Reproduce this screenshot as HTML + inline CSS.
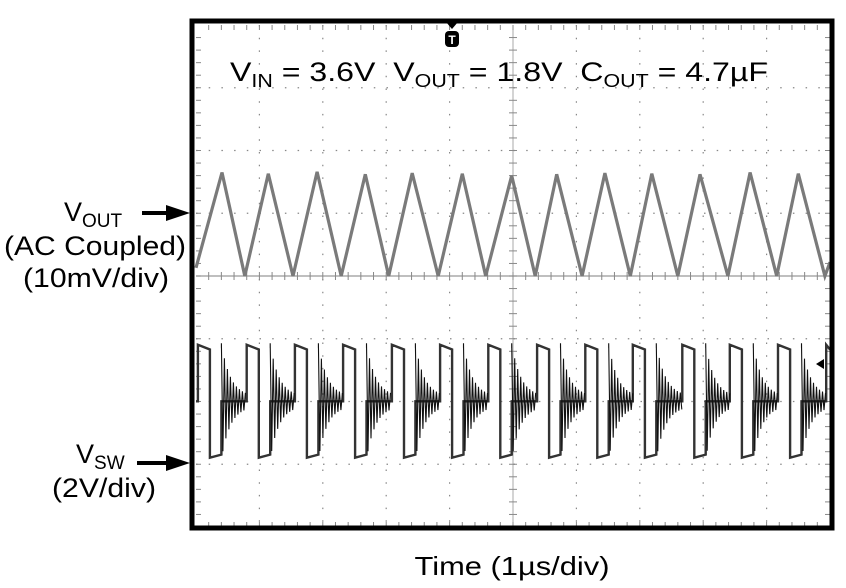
<!DOCTYPE html>
<html><head><meta charset="utf-8"><style>
html,body{margin:0;padding:0;background:#fff;}
svg{display:block;font-family:"Liberation Sans",sans-serif;}
</style></head><body>
<svg id="chart" width="846" height="588" viewBox="0 0 846 588">
<g id="grid"></g>
<g id="traces"></g>
<rect x="192" y="21" width="640" height="507" fill="none" stroke="#000" stroke-width="5"/>
<g>
<polygon points="446,22 458,22 452,29" fill="#000"/>
<rect x="445" y="31" width="14" height="16" rx="4" fill="#000"/>
<text x="452" y="44" font-size="12" font-weight="bold" fill="#fff" text-anchor="middle">T</text>
</g>
<polygon points="816,364 824,359 824,369" fill="#000"/>
<text x="230" y="81" font-size="27" fill="#000" textLength="538" lengthAdjust="spacingAndGlyphs">V<tspan font-size="18" dy="6">IN</tspan><tspan dy="-6"> = 3.6V&#160;&#160;V</tspan><tspan font-size="18" dy="6">OUT</tspan><tspan dy="-6"> = 1.8V&#160;&#160;C</tspan><tspan font-size="18" dy="6">OUT</tspan><tspan dy="-6"> = 4.7µF</tspan></text>
<g font-size="27">
<text x="64" y="221">V<tspan font-size="19" dy="6">OUT</tspan></text>
<polygon points="142,211 166,211 166,205 190,213 166,221 166,215 142,215" fill="#000"/>
<text x="4" y="255" textLength="182" lengthAdjust="spacingAndGlyphs">(AC Coupled)</text>
<text x="23" y="287" textLength="146" lengthAdjust="spacingAndGlyphs">(10mV/div)</text>
</g>
<g font-size="27">
<text x="76" y="463">V<tspan font-size="19" dy="6">SW</tspan></text>
<polygon points="137,461 166,461 166,455 190,463 166,471 166,465 137,465" fill="#000"/>
<text x="52" y="497" textLength="104" lengthAdjust="spacingAndGlyphs">(2V/div)</text>
</g>
<text x="512" y="575" font-size="26" text-anchor="middle" textLength="195" lengthAdjust="spacingAndGlyphs">Time (1µs/div)</text>
</svg>
<script>
// Vout (mV, AC coupled) vertices: times (µs) and values
const voutTimes = [0, 0.41, 0.77, 1.14, 1.53, 1.91, 2.29, 2.67, 3.04, 3.41, 3.82, 4.20, 4.57, 4.98, 5.35, 5.69, 6.09, 6.45, 6.85, 7.19, 7.60, 7.95, 8.39, 8.74, 9.16, 9.50, 9.92, 10];
const voutValues = [1.3, 16.5, 0, 16.3, 0, 16.6, 0, 16.2, 0, 16.4, 0, 16.3, 0, 16.0, 0, 16.2, 0, 16.4, 0, 16.3, 0, 16.2, 0, 16.5, 0, 16.3, 0, 2.2];
// Vsw rising edge times (µs)
const swRiseTimes = [0.03, 0.80, 1.56, 2.32, 3.09, 3.85, 4.61, 5.38, 6.14, 6.89, 7.67, 8.42, 9.18, 9.94];
const swHigh = 3.8, swLow = 0.2, swRingCenter = 2.0, swRingAmp = 1.7;
const highDuration = 0.19, lowDuration = 0.18;

const NS = 'http://www.w3.org/2000/svg';
const X0 = 196, X1 = 830, Y0 = 25, Y1 = 527;
const DIVX = (X1 - X0) / 10, DIVY = (Y1 - Y0) / 8;
const xs = t => X0 + t * DIVX;
const yVout = mv => 276 - mv / 10 * DIVY;
const ySw = v => 464 - v / 2 * DIVY;

const grid = document.getElementById('grid');
function ln(x1, y1, x2, y2, attrs, g) {
  const l = document.createElementNS(NS, 'line');
  l.setAttribute('x1', x1); l.setAttribute('y1', y1); l.setAttribute('x2', x2); l.setAttribute('y2', y2);
  for (const k in attrs) l.setAttribute(k, attrs[k]);
  g.appendChild(l); return l;
}
const dot = {stroke: '#888', 'stroke-width': 1.2, 'stroke-dasharray': '1.5 11.2'};
for (let i = 1; i < 10; i++) {
  const l = ln(X0 + i * DIVX, Y0, X0 + i * DIVX, Y1, i === 5 ? {stroke: '#aaa', 'stroke-width': 1} : dot, grid);
  
  
}
for (let j = 1; j < 8; j++) {
  const l = ln(X0, Y0 + j * DIVY, X1, Y0 + j * DIVY, j === 4 ? {stroke: '#999', 'stroke-width': 1.2} : dot, grid);
  
  
}
for (let k = 1; k < 50; k++) {
  const x = X0 + k * DIVX / 5;
  ln(x, 272, x, 280, {stroke: '#888', 'stroke-width': 1}, grid);
  ln(x, Y0, x, Y0 + 5, {stroke: '#888', 'stroke-width': 1}, grid);
  ln(x, Y1 - 5, x, Y1, {stroke: '#888', 'stroke-width': 1}, grid);
}
for (let k = 1; k < 40; k++) {
  const y = Y0 + k * DIVY / 5;
  ln(509, y, 517, y, {stroke: '#888', 'stroke-width': 1}, grid);
  ln(X0, y, X0 + 5, y, {stroke: '#888', 'stroke-width': 1}, grid);
  ln(X1 - 5, y, X1, y, {stroke: '#888', 'stroke-width': 1}, grid);
}

const traces = document.getElementById('traces');
// Vout
let d = '';
voutTimes.forEach((t, i) => { d += (i ? 'L' : 'M') + xs(t).toFixed(1) + ',' + yVout(voutValues[i]).toFixed(1); });
const vp = document.createElementNS(NS, 'path');
vp.setAttribute('d', d); vp.setAttribute('fill', 'none'); vp.setAttribute('stroke', '#7a7a7a'); vp.setAttribute('stroke-width', '3.2');


traces.appendChild(vp);

// Vsw
let sd = 'M' + xs(0) + ',' + ySw(swRingCenter).toFixed(1);
let ring = '';
swRiseTimes.forEach((tr, i) => {
  const tf = tr + highDuration, ts = tf + lowDuration;
  sd += 'L' + xs(tr).toFixed(1) + ',' + ySw(swRingCenter).toFixed(1);
  sd += 'L' + xs(tr).toFixed(1) + ',' + ySw(swHigh).toFixed(1);
  sd += 'L' + xs(Math.min(tf, 10)).toFixed(1) + ',' + ySw(swHigh - 0.15).toFixed(1);
  if (tf >= 10) return;
  sd += 'L' + xs(tf).toFixed(1) + ',' + ySw(swLow).toFixed(1);
  sd += 'L' + xs(Math.min(ts, 10)).toFixed(1) + ',' + ySw(swLow + 0.1).toFixed(1);
  if (ts >= 10) return;
  const tEnd = Math.min(i + 1 < swRiseTimes.length ? swRiseTimes[i + 1] : 10, 10);
  sd += 'L' + xs(ts).toFixed(1) + ',' + ySw(swRingCenter).toFixed(1);
  ring += 'M' + xs(ts).toFixed(1) + ',' + ySw(swRingCenter + swRingAmp).toFixed(1);
  let s = 1;
  for (let x = xs(ts); x <= xs(tEnd); x += 1.5) {
    const frac = (x - xs(ts)) / (xs(tEnd) - xs(ts) + 0.01);
    const a = swRingAmp * Math.exp(-frac * 2.8) + 0.15;
    ring += 'L' + x.toFixed(1) + ',' + ySw(swRingCenter + s * a).toFixed(1);
    s = -s;
  }
  sd += 'L' + xs(tEnd).toFixed(1) + ',' + ySw(swRingCenter).toFixed(1);
});
const sp = document.createElementNS(NS, 'path');
sp.setAttribute('d', sd); sp.setAttribute('fill', 'none'); sp.setAttribute('stroke', '#333'); sp.setAttribute('stroke-width', '2.4');


traces.appendChild(sp);
const rp = document.createElementNS(NS, 'path');
rp.setAttribute('d', ring); rp.setAttribute('fill', 'none'); rp.setAttribute('stroke', '#111'); rp.setAttribute('stroke-width', '1.1');


traces.appendChild(rp);
</script>
</body></html>
